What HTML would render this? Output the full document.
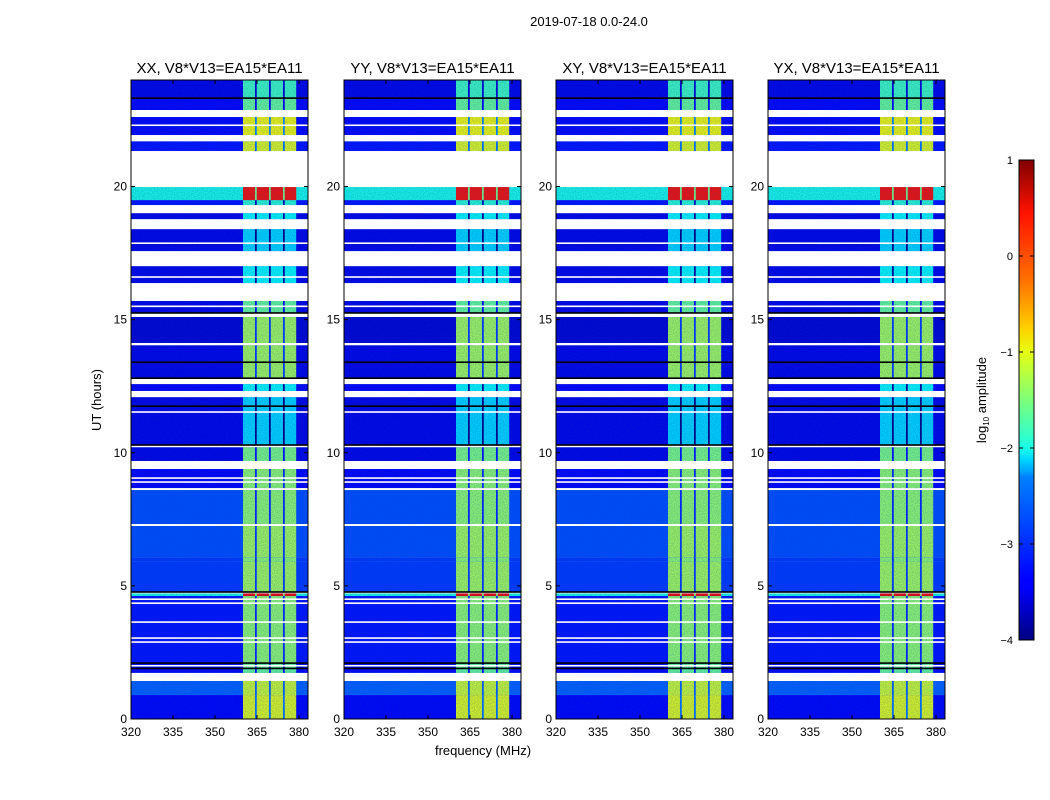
<!DOCTYPE html>
<html><head><meta charset="utf-8"><style>
body{margin:0;background:#fff;}
svg{display:block;font-family:"Liberation Sans","DejaVu Sans",sans-serif;}
</style></head><body>
<svg id="fig" width="1050" height="800" viewBox="0 0 1050 800" xmlns="http://www.w3.org/2000/svg">
<defs>
<linearGradient id="jet" x1="0" y1="1" x2="0" y2="0">
<stop offset="0" stop-color="#000080"/><stop offset="0.11" stop-color="#0000ff"/>
<stop offset="0.125" stop-color="#0000ff"/><stop offset="0.34" stop-color="#0080ff"/>
<stop offset="0.35" stop-color="#00a0ff"/><stop offset="0.375" stop-color="#00d4ff"/>
<stop offset="0.4" stop-color="#1affe6"/><stop offset="0.5" stop-color="#7dff7a"/>
<stop offset="0.6" stop-color="#e6ff12"/><stop offset="0.65" stop-color="#ffd000"/>
<stop offset="0.75" stop-color="#ff7000"/><stop offset="0.89" stop-color="#ff1200"/>
<stop offset="1" stop-color="#800000"/>
</linearGradient>
<filter id="noise" x="0" y="0" width="1" height="1">
<feTurbulence type="fractalNoise" baseFrequency="0.9" numOctaves="1" seed="3"/>
<feColorMatrix type="matrix" values="0 0 0 0 0  0 0 0 0 0.05  0 0 0 0 0.45  0 0 0 0.45 -0.05"/>
</filter>
</defs>
<text x="589" y="26" font-size="13" text-anchor="middle">2019-07-18 0.0-24.0</text>
<g id="panels"></g>
<text x="101" y="400" font-size="13" text-anchor="middle" transform="rotate(-90 101 400)">UT (hours)</text>
<text x="483" y="755" font-size="13" text-anchor="middle">frequency (MHz)</text>
<g id="cbar"></g>
</svg>
<script>
// ---- data ----
const panelTitles = ["XX, V8*V13=EA15*EA11","YY, V8*V13=EA15*EA11","XY, V8*V13=EA15*EA11","YX, V8*V13=EA15*EA11"];
const segStart = [0,0.9,1.73,2.1,4.62,4.77,5.9,6.08,7.32,8.67,9.69,10.29,12.32,12.8,14.12,15.25,16.37,17.57,18.77,19.3,19.49,21.33,21.93,22.87,23.32];
const segEnd   = [0.9,1.43,2.1,4.62,4.72,5.9,6.08,7.25,8.6,9.39,10.21,12.09,12.58,14.04,15.1,15.7,17.01,18.4,19.0,19.49,19.98,21.7,22.61,23.32,24];
const segBg    = [-3.4,-2.9,-3.4,-3.3,-2.0,-3.1,-3.1,-3.0,-3.0,-3.4,-3.5,-3.5,-3.4,-3.5,-3.6,-3.5,-3.5,-3.5,-3.5,-3.3,-2.0,-3.3,-3.4,-3.4,-3.5];
const segBand  = [-1.0,-1.1,-1.6,-1.4,0.4,-1.3,-1.4,-1.3,-1.4,-1.4,-1.5,-2.3,-2.1,-1.3,-1.3,-1.6,-2.1,-2.3,-2.1,-1.9,0.3,-1.0,-0.9,-1.6,-1.8];
const whiteLines = [2.0,2.89,3.04,3.64,4.35,4.5,8.9,9.05,11.53,15.5,16.6,17.87,21.8,22.3];
const blackLines = [1.9,2.1,4.77,10.29,11.75,12.8,13.4,15.25,23.32];
const bandLo = 360, bandHi = 379;
const sepFreqs = [364.6,369.6,374.6];
const xTicks = [320,335,350,365,380];
const yTicks = [0,5,10,15,20];
const cbTicks = [1,0,-1,-2,-3,-4];

const panelX = [131,344,556,768];
const PW = 177, TOP = 80, BOT = 719;
const NS = "http://www.w3.org/2000/svg";
function el(tag, attrs, parent){const e=document.createElementNS(NS,tag);for(const k in attrs)e.setAttribute(k,attrs[k]);parent.appendChild(e);return e;}
function jet(v){
  let t=Math.max(0,Math.min(1,(v+4)/5));
  const f=(x)=>Math.max(0,Math.min(1,1.5-Math.abs(4*t-x)));
  const r=f(3),g=f(2),b=f(1);
  return `rgb(${Math.round(r*255)},${Math.round(g*255)},${Math.round(b*255)})`;
}
const yS = h => BOT - (h/24)*(BOT-TOP);
const panels = document.getElementById('panels');
panelX.forEach((x0,p)=>{
  const xS = f => x0 + (f-320)*2.8;
  const g = el('g',{},panels);
  
  
  for(let i=0;i<segStart.length;i++){
    const y1=yS(segEnd[i]), y2=yS(segStart[i]);
    const r=el('rect',{x:x0,y:y1,width:PW,height:y2-y1,fill:jet(segBg[i])},g);
    
    
    const b=el('rect',{x:xS(bandLo),y:y1,width:xS(bandHi)-xS(bandLo),height:y2-y1,fill:jet(segBand[i])},g);
    
    
    sepFreqs.forEach(f=>{
      const s=el('rect',{x:xS(f)-0.9,y:y1,width:1.8,height:y2-y1,fill:jet(segBand[i]-1.8)},g);
      
      
    });
  }
  const nz=el('rect',{x:x0,y:TOP,width:PW,height:BOT-TOP,filter:'url(#noise)'},g);
  
  
  let last=0;
  for(let i=0;i<segStart.length;i++){
    const a=segStart[i];
    if(a>last+0.001){const w=el('rect',{x:x0,y:yS(a),width:PW,height:yS(last)-yS(a),fill:'#fff'},g);
      
      }
    last=segEnd[i];
  }
  whiteLines.forEach(h=>{const l=el('rect',{x:x0,y:yS(h)-0.8,width:PW,height:1.6,fill:'#fff'},g);
    
    });
  blackLines.forEach(h=>{const l=el('rect',{x:x0,y:yS(h)-0.8,width:PW,height:1.6,fill:'#000'},g);
    
    });
  const fr=el('rect',{x:x0,y:TOP,width:PW,height:BOT-TOP,fill:'none',stroke:'#000','stroke-width':1},g);
  
  
  const t=el('text',{x:x0+PW/2,y:73,'font-size':15,'text-anchor':'middle'},g);
  t.textContent=panelTitles[p];
  
  
  xTicks.forEach(v=>{
    const x=xS(v);
    el('line',{x1:x,y1:BOT,x2:x,y2:BOT-4,stroke:'#000'},g);
    el('line',{x1:x,y1:TOP,x2:x,y2:TOP+4,stroke:'#000'},g);
    const tl=el('text',{x:x,y:BOT+17,'font-size':12,'text-anchor':'middle'},g);
    tl.textContent=v;
    
    
  });
  yTicks.forEach(v=>{
    const y=yS(v);
    el('line',{x1:x0,y1:y,x2:x0+4,y2:y,stroke:'#000'},g);
    el('line',{x1:x0+PW,y1:y,x2:x0+PW-4,y2:y,stroke:'#000'},g);
    const tl=el('text',{x:x0-4,y:y+4,'font-size':12,'text-anchor':'end'},g);
    tl.textContent=v;
    
    
  });
});
const cb=document.getElementById('cbar');
el('rect',{x:1019,y:160,width:15,height:480,fill:'url(#jet)',stroke:'#000','stroke-width':1},cb);
cbTicks.forEach(v=>{
  const y=160+(1-v)/5*480;
  el('line',{x1:1019,y1:y,x2:1023,y2:y,stroke:'#000'},cb);
  el('line',{x1:1034,y1:y,x2:1030,y2:y,stroke:'#000'},cb);
  const tl=el('text',{x:1013,y:y+4,'font-size':11,'text-anchor':'end'},cb);
  tl.textContent=v<0?'\u2212'+(-v):String(v);
  
  
});
const cl=el('text',{x:986,y:400,'font-size':13,'text-anchor':'middle',transform:'rotate(-90 986 400)'},cb);
cl.innerHTML='log<tspan font-size="8" dy="3">10</tspan><tspan dy="-3"> amplitude</tspan>';


</script>
</body></html>
